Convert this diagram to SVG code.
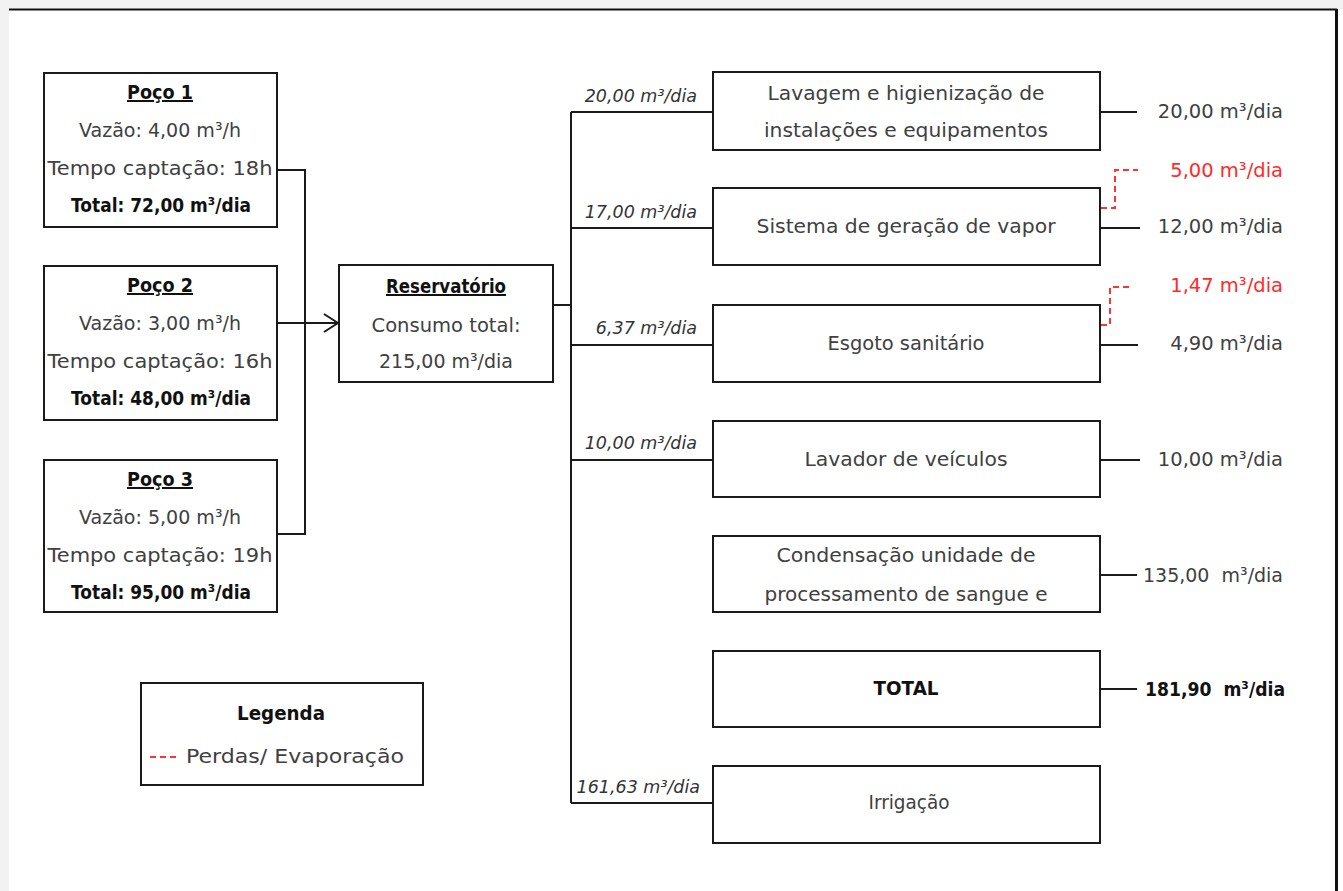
<svg xmlns="http://www.w3.org/2000/svg" width="1343" height="891" viewBox="0 0 1343 891">
<style>
.box{fill:#fff;stroke:#1a1a1a;stroke-width:2}
.t{font-family:"DejaVu Sans","Liberation Sans",sans-serif;font-size:20px;fill:#404040;text-anchor:middle}
.lab{font-family:"DejaVu Sans","Liberation Sans",sans-serif;font-size:17.5px;font-style:italic;fill:#333;text-anchor:end}
.out{font-family:"DejaVu Sans","Liberation Sans",sans-serif;font-size:19.5px;fill:#404040;text-anchor:end}
.b{font-weight:bold;fill:#111}
.u{text-decoration:underline}
.red{fill:#ff2a2a}
.ln{fill:none;stroke:#1a1a1a;stroke-width:2}
.dash{fill:none;stroke:#ff3333;stroke-width:2;stroke-dasharray:6,4}
</style>
<defs>
<marker id="arr" markerWidth="16" markerHeight="20" refX="15" refY="10" orient="auto" markerUnits="userSpaceOnUse">
<path d="M1,1 L15,10 L1,19" fill="none" stroke="#1a1a1a" stroke-width="2"/>
</marker>
</defs>
<rect x="0" y="0" width="1343" height="891" fill="#fff"/>
<rect x="0" y="0" width="1343" height="9" fill="#f2f2f2"/>
<rect x="0" y="0" width="9" height="891" fill="#f2f2f2"/>
<g id="frame">
<line x1="9" y1="9.5" x2="1337" y2="9.5" stroke="#111" stroke-width="2"/>
<line x1="1336.5" y1="9" x2="1336.5" y2="891" stroke="#111" stroke-width="3"/>
</g>
<g id="connectors">
<polyline class="ln" points="277,170 305,170 305,534 277,534"/>
<line class="ln" x1="277" y1="323" x2="338" y2="323" marker-end="url(#arr)"/>
<polyline class="ln" points="553,305 571,305"/>
<line class="ln" x1="571" y1="112" x2="571" y2="803"/>
<line class="ln" x1="571" y1="112" x2="713" y2="112"/>
<line class="ln" x1="571" y1="228" x2="713" y2="228"/>
<line class="ln" x1="571" y1="345" x2="713" y2="345"/>
<line class="ln" x1="571" y1="460" x2="713" y2="460"/>
<line class="ln" x1="571" y1="803" x2="713" y2="803"/>
<line class="ln" x1="1100" y1="112" x2="1137" y2="112"/>
<line class="ln" x1="1100" y1="228" x2="1140" y2="228"/>
<line class="ln" x1="1100" y1="345" x2="1138" y2="345"/>
<line class="ln" x1="1100" y1="460" x2="1140" y2="460"/>
<line class="ln" x1="1100" y1="575" x2="1137" y2="575"/>
<line class="ln" x1="1100" y1="689" x2="1137" y2="689"/>
<polyline class="dash" points="1101,208 1115,208 1115,170 1138,170"/>
<polyline class="dash" points="1101,325 1110,325 1110,287 1131,287"/>
<text class="lab" x="697" y="102">20,00 m³/dia</text>
<text class="lab" x="697" y="218">17,00 m³/dia</text>
<text class="lab" x="697" y="334">6,37 m³/dia</text>
<text class="lab" x="697" y="449">10,00 m³/dia</text>
<text class="lab" x="700" y="793">161,63 m³/dia</text>
<text class="out" x="1283" y="118">20,00 m³/dia</text>
<text class="out red" x="1283" y="177">5,00 m³/dia</text>
<text class="out" x="1283" y="233">12,00 m³/dia</text>
<text class="out red" x="1283" y="292">1,47 m³/dia</text>
<text class="out" x="1283" y="350">4,90 m³/dia</text>
<text class="out" x="1283" y="466">10,00 m³/dia</text>
<text class="out" x="1283" y="582" xml:space="preserve" textLength="140" lengthAdjust="spacingAndGlyphs">135,00  m³/dia</text>
<text class="out b" x="1285" y="696" xml:space="preserve" textLength="140" lengthAdjust="spacingAndGlyphs">181,90  m³/dia</text>
</g>
<g id="poco1">
<rect class="box" x="44" y="73" width="233" height="154"/>
<text class="t b u" x="160" y="99" textLength="66" lengthAdjust="spacingAndGlyphs">Poço 1</text>
<text class="t" x="160" y="137" textLength="162" lengthAdjust="spacingAndGlyphs">Vazão: 4,00 m³/h</text>
<text class="t" x="160" y="175" textLength="225" lengthAdjust="spacingAndGlyphs">Tempo captação: 18h</text>
<text class="t b" x="161" y="212" textLength="180" lengthAdjust="spacingAndGlyphs">Total: 72,00 m³/dia</text>
</g>
<g id="poco2">
<rect class="box" x="44" y="266" width="233" height="154"/>
<text class="t b u" x="160" y="292" textLength="66" lengthAdjust="spacingAndGlyphs">Poço 2</text>
<text class="t" x="160" y="330" textLength="162" lengthAdjust="spacingAndGlyphs">Vazão: 3,00 m³/h</text>
<text class="t" x="160" y="368" textLength="225" lengthAdjust="spacingAndGlyphs">Tempo captação: 16h</text>
<text class="t b" x="161" y="405" textLength="180" lengthAdjust="spacingAndGlyphs">Total: 48,00 m³/dia</text>
</g>
<g id="poco3">
<rect class="box" x="44" y="460" width="233" height="152"/>
<text class="t b u" x="160" y="486" textLength="66" lengthAdjust="spacingAndGlyphs">Poço 3</text>
<text class="t" x="160" y="524" textLength="162" lengthAdjust="spacingAndGlyphs">Vazão: 5,00 m³/h</text>
<text class="t" x="160" y="562" textLength="225" lengthAdjust="spacingAndGlyphs">Tempo captação: 19h</text>
<text class="t b" x="161" y="599" textLength="180" lengthAdjust="spacingAndGlyphs">Total: 95,00 m³/dia</text>
</g>
<g id="reservatorio">
<rect class="box" x="339" y="265" width="214" height="117"/>
<text class="t b u" x="446" y="293" textLength="120" lengthAdjust="spacingAndGlyphs">Reservatório</text>
<text class="t" x="446" y="332" textLength="149" lengthAdjust="spacingAndGlyphs">Consumo total:</text>
<text class="t" x="446" y="368" textLength="134" lengthAdjust="spacingAndGlyphs">215,00 m³/dia</text>
</g>
<g id="lavagem">
<rect class="box" x="713" y="72" width="387" height="78"/>
<text class="t" x="906" y="100" textLength="277" lengthAdjust="spacingAndGlyphs">Lavagem e higienização de</text>
<text class="t" x="906" y="137" textLength="284" lengthAdjust="spacingAndGlyphs">instalações e equipamentos</text>
</g>
<g id="vapor">
<rect class="box" x="713" y="188" width="387" height="77"/>
<text class="t" x="906" y="233" textLength="299" lengthAdjust="spacingAndGlyphs">Sistema de geração de vapor</text>
</g>
<g id="esgoto">
<rect class="box" x="713" y="305" width="387" height="77"/>
<text class="t" x="906" y="350" textLength="157" lengthAdjust="spacingAndGlyphs">Esgoto sanitário</text>
</g>
<g id="lavador">
<rect class="box" x="713" y="421" width="387" height="76"/>
<text class="t" x="906" y="466" textLength="203" lengthAdjust="spacingAndGlyphs">Lavador de veículos</text>
</g>
<g id="condensacao">
<rect class="box" x="713" y="536" width="387" height="76"/>
<text class="t" x="906" y="562" textLength="259" lengthAdjust="spacingAndGlyphs">Condensação unidade de</text>
<text class="t" x="906" y="601" textLength="283" lengthAdjust="spacingAndGlyphs">processamento de sangue e</text>
</g>
<g id="total">
<rect class="box" x="713" y="651" width="387" height="76"/>
<text class="t b" x="906" y="695" textLength="65" lengthAdjust="spacingAndGlyphs">TOTAL</text>
</g>
<g id="irrigacao">
<rect class="box" x="713" y="766" width="387" height="77"/>
<text class="t" x="909" y="809" textLength="81" lengthAdjust="spacingAndGlyphs">Irrigação</text>
</g>
<g id="legenda">
<rect class="box" x="141" y="683" width="282" height="102"/>
<text class="t b" x="281" y="720" textLength="88" lengthAdjust="spacingAndGlyphs">Legenda</text>
<line class="dash" x1="150" y1="757" x2="180" y2="757" stroke-dasharray="5,3"/>
<text class="t" x="186" y="763" style="text-anchor:start" textLength="218" lengthAdjust="spacingAndGlyphs">Perdas/ Evaporação</text>
</g>
</svg>
